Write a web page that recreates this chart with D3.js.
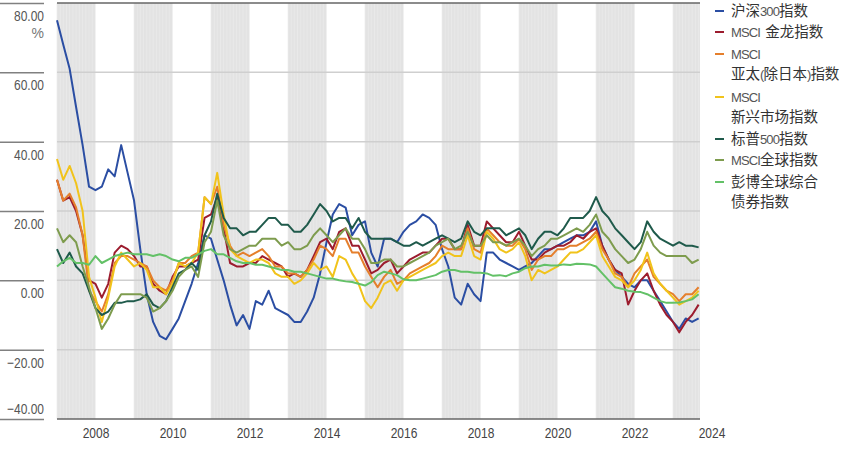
<!DOCTYPE html>
<html><head><meta charset="utf-8">
<script src="https://cdn.jsdelivr.net/npm/d3@7"></script>
<style>
html,body{margin:0;padding:0;background:#fff;}
svg{display:block;font-family:'Noto Sans CJK SC',sans-serif;}
</style></head>
<body><svg id="c" width="844" height="456"></svg>
<script>
// bi-monthly observations, Jan 2007 .. Sep 2023 (Jan, Mar, May, Jul, Sep, Nov)
const startDate = new Date(2007,0,1), endDate = new Date(2023,9,1);
const yTicks = [80,60,40,20,0,-20,-40];
const xTickYears = [2008,2010,2012,2014,2016,2018,2020,2022,2024];
const seriesNames = ["沪深300指数","MSCI 金龙指数","MSCI|亚太(除日本)指数","MSCI|新兴市场指数","标普500指数","MSCI全球指数","彭博全球综合|债券指数"];
const seriesColors = ["#2b4ea3","#9c1c2e","#e57f2c","#f1c31b","#1f5a4b","#7e9c4e","#63c167"];

const csi300 = [
75,68,61,50,39,27,
26,27,32,30,39,31,
23,9,-4,-12,-16,-17,
-14,-11,-6,-1,5,13,
12,6,0,-7,-13,-10,
-14,-6,-7,-3,-8,-9,
-10,-12,-12,-9,-5,2,
11,19,22,21,13,16,
17,8,4,12,12,11,
14,16,17,19,18,16,
9,4,-5,-7,-1,-4,
-6,8,8,6,5,4,
3,4,5,7,9,9,
10,11,12,13,13,14,
17,10,6,3,1,-1,
-2,0,0,-3,-6,-9,
-12,-14,-11,-12,-11];
const goldenDragon = [
29,23,24,20,13,0,
-1,-5,-1,8,10,9,
7,4,4,-1,-3,-4,
1,4,4,5,6,18,
19,24,15,5,4,4,
5,5,7,6,5,4,
1,2,1,3,7,11,
12,9,14,15,10,10,
6,2,3,5,6,2,
4,6,7,8,8,10,
12,12,9,9,16,10,
10,17,15,13,11,11,
14,10,6,6,8,9,
10,10,11,13,12,14,
15,10,6,3,2,-7,
-3,0,2,-3,-7,-10,
-12,-15,-12,-10,-7];
const asiaPacExJapan = [
29,23,25,21,13,-3,
-6,-9,-4,5,7,7,
6,5,4,0,-2,-3,
0,5,5,7,8,24,
22,27,16,10,7,8,
7,8,9,7,4,4,
2,2,1,3,6,10,
9,7,12,12,8,8,
4,1,-2,1,3,-1,
0,2,3,4,5,7,
10,9,9,9,15,9,
8,15,13,11,10,10,
12,9,3,6,7,7,
9,9,10,10,11,12,
14,9,6,2,1,-2,
2,4,6,1,-1,-3,
-4,-6,-4,-4,-2];
const emerging = [
35,29,33,28,20,1,
-5,-12,-5,4,8,6,
4,5,3,-2,-2,-4,
-1,5,4,5,8,24,
22,31,19,9,7,6,
5,6,6,5,2,1,
1,-1,0,2,5,3,
4,1,7,6,2,-1,
-6,-8,-5,-1,0,-3,
0,1,2,3,4,5,
7,8,7,7,13,7,
6,14,12,9,8,9,
11,7,0,3,2,3,
4,6,8,8,9,11,
13,7,4,1,0,-2,
0,3,8,2,-1,-3,
-5,-7,-6,-5,-3];
const sp500 = [
9,5,8,4,2,-3,
-8,-10,-9,-6.5,-6.5,-6,
-6,-5.5,-4,-7,-8,-6,
-2,2,3,5,3,13,
17,25,18,15,15,13,
14,14,16,18,18,16,
16,14,14,16,19,22,
20,17,18,18,15,18,
14,12,12,12,12,11,
10,10,11,10,11,12,
13,12,11,12,17,14,
13,15,15,15,13,14,
15,13,9,12,14,14,
13,15,18,18,18,20,
24,20,18,15,13,11,
9,11,17,14,12,11,
10,11,10,10,9.5];
const acwi = [
15,11,13,11,4,-2,
-8,-14,-11,-7,-4,-4,
-4,-4,-5,-9,-8,-6,
-3,1,3,4,1,11,
14,23,13,9,8,9,
10,10,12,12,12,10,
11,9,9,10,13,15,
13,11,13,15,12,12,
9,5,5,6,6,4,
4,5,6,7,8,10,
11,12,9,10,14,10,
10,13,11,11,10,11,
12,10,7,9,10,12,
12,13,14,15,14,16,
19,14,12,9,7,5,
6,9,14,10,8,7,
7,7,7,5,6];
const globalAgg = [
4,5.5,6.5,5,5,4.5,
7,5,6,7,7.5,8,
7.5,7.5,7.5,7,7.5,7,
6,5.5,6.5,6.5,7.5,8.5,
9,7.5,7.5,6.5,5.5,5,
5,4.5,4.5,4,3.5,3,
3,2.5,2.5,2,1.5,1,
0.5,0.5,0,-0.3,-0.5,-1,
-1.5,-0.5,1.5,2.5,2,1.5,
0.3,0,0,0.5,1,1.5,
2.5,3,3,2.5,2.5,2.2,
2.2,2,1.3,1.5,1.2,2,
2.5,3.5,4,4,4.5,4.3,
4.3,4.6,4.4,4.8,4.7,4.6,
4,2,0,-2,-2.4,-3,
-3.3,-3.4,-4,-5,-6,-6.5,
-6.5,-6.4,-6,-5.5,-4];

const allSeries = [csi300, goldenDragon, asiaPacExJapan, emerging, sp500, acwi, globalAgg];
const dates = d3.timeMonth.every(2).range(startDate, endDate);

const svg = d3.select("#c");
const L = 57, R = 700, T = 3, B = 419;
const x = d3.scaleTime().domain([new Date(2007,0,1), new Date(2024,0,1)]).range([L, 711.5]);
const y = d3.scaleLinear().domain([-40,80]).range([B, T]);
const narrow = "'Liberation Sans',Arial,sans-serif";

// alternating shaded years
const bands = svg.append("g");
for (let yr = 2007; yr <= 2023; yr += 2) {
  const x0 = x(new Date(yr,0,1)), x1 = Math.min(x(new Date(yr+1,0,1)), R);
  bands.append("rect").attr("x", x0).attr("y", T).attr("width", x1-x0).attr("height", B-T).attr("fill", "#e3e3e3");
  d3.timeMonth.range(new Date(yr,0,1), new Date(yr+1,0,1)).forEach(m => {
    const xm = x(m); if (xm < R) bands.append("line").attr("x1", xm).attr("x2", xm).attr("y1", T).attr("y2", B).attr("stroke", "#ebebeb").attr("stroke-width", 0.7);
  });
}

// gridlines in plot
svg.append("g").selectAll("line").data(yTicks).join("line")
  .attr("x1", L).attr("x2", R).attr("y1", d => y(d)).attr("y2", d => y(d))
  .attr("stroke", d => (d === 80 || d === -40) ? "#666" : "#cfcfcf")
  .attr("stroke-width", 1.5);

// y axis (tick stubs + labels under them; lowest label above its line)
const yAxis = svg.append("g").attr("transform", "translate(44,0)")
  .call(d3.axisLeft(y).tickValues(yTicks).tickSize(44).tickFormat(d => (d < 0 ? "\u2212" + Math.abs(d).toFixed(2) : d.toFixed(2))));
yAxis.attr("font-family", null).attr("font-size", null);
yAxis.select(".domain").remove();
yAxis.selectAll(".tick line").attr("stroke", "#808080").attr("stroke-width", 1.5);
yAxis.selectAll(".tick text").attr("x", 0).attr("dy", d => d === -40 ? -6 : 17.5).attr("text-anchor", "end")
  .attr("transform", "scale(0.8,1)")
  .attr("fill", "#555").style("font-size", "15px").style("font-family", narrow);
yAxis.append("text").attr("x", 0).attr("y", y(80) + 35).attr("text-anchor", "end")
  .attr("fill", "#777").style("font-size", "14px").style("font-family", narrow).text("%");

// x axis labels
const xAxis = svg.append("g").attr("transform", `translate(0,${B})`)
  .call(d3.axisBottom(x).tickValues(xTickYears.map(v => new Date(v,0,1))).tickSize(0).tickFormat(d3.timeFormat("%Y")));
xAxis.attr("font-family", null).attr("font-size", null);
xAxis.select(".domain").remove();
xAxis.selectAll(".tick text").attr("y", 0).attr("dy", 19.5).attr("transform", "scale(0.8,1)")
  .attr("fill", "#444").style("font-size", "15px").style("font-family", narrow);

// series lines
const line = d3.line().x((d,i) => x(dates[i])).y(d => y(d));
svg.append("g").selectAll("path").data(allSeries).join("path")
  .attr("d", line).attr("fill", "none")
  .attr("stroke", (d,i) => seriesColors[i]).attr("stroke-width", 2).attr("stroke-linejoin", "round");

// legend
const legendY = [[11],[32],[54,74],[97,117],[139],[160],[182,202]];
const lg = svg.append("g");
seriesNames.forEach((name, i) => {
  const parts = name.split("|");
  lg.append("line").attr("x1", 715).attr("x2", 724).attr("y1", legendY[i][0]).attr("y2", legendY[i][0])
    .attr("stroke", seriesColors[i]).attr("stroke-width", 2);
  parts.forEach((p, j) => {
    const t = lg.append("text").attr("x", 731).attr("y", legendY[i][j]).attr("dy", "0.36em")
      .attr("fill", "#333").style("font-size", "14.5px");
    (p.match(/[\x00-\x7F]+|[^\x00-\x7F]+/g) || []).forEach(run => {
      const isAscii = /^[\x00-\x7F]+$/.test(run);
      const ts = t.append("tspan").text(isAscii ? run.replace(/ /g, "\u00a0\u00a0") : run);
      if (isAscii) ts.style("font-family", narrow).style("font-size", "13px").attr("letter-spacing", "-0.9").attr("fill", "#555");
    });
  });
});
</script></body></html>
